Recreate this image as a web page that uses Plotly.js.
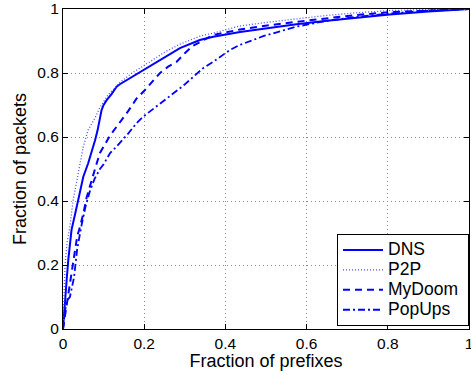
<!DOCTYPE html>
<html>
<head>
<meta charset="utf-8">
<script src="https://cdn.plot.ly/plotly-3.0.1.min.js"></script>
<style>
html,body{margin:0;padding:0;background:#fff;}
#chart{width:471px;height:371px;}
</style>
</head>
<body>
<div id="chart"></div>
<script>
const seriesNames = ["DNS", "P2P", "MyDoom", "PopUps"];

const dnsX = [0, 0.002, 0.005, 0.009, 0.013, 0.017, 0.021, 0.03, 0.038, 0.05, 0.062, 0.07, 0.079, 0.085, 0.091, 0.095, 0.1, 0.108, 0.12, 0.132, 0.14, 0.165, 0.19, 0.21, 0.239, 0.256, 0.288, 0.337, 0.37, 0.436, 0.5, 0.575, 0.65, 0.72, 0.805, 0.9, 1.0];
const dnsY = [0, 0.04, 0.08, 0.153, 0.216, 0.268, 0.31, 0.36, 0.403, 0.476, 0.518, 0.55, 0.59, 0.62, 0.663, 0.684, 0.7, 0.716, 0.735, 0.757, 0.765, 0.784, 0.804, 0.82, 0.84, 0.853, 0.878, 0.903, 0.913, 0.928, 0.94, 0.952, 0.963, 0.972, 0.983, 0.992, 1.0];

const p2pX = [0, 0.002, 0.005, 0.01, 0.017, 0.025, 0.038, 0.05, 0.062, 0.079, 0.09, 0.11, 0.14, 0.17, 0.214, 0.25, 0.288, 0.337, 0.37, 0.436, 0.5, 0.575, 0.65, 0.72, 0.805, 0.9, 1.0];
const p2pY = [0, 0.12, 0.2, 0.27, 0.32, 0.403, 0.487, 0.57, 0.622, 0.66, 0.69, 0.73, 0.77, 0.8, 0.835, 0.865, 0.89, 0.915, 0.925, 0.947, 0.958, 0.97, 0.98, 0.988, 0.995, 0.999, 1.0];

const mydoomX = [0, 0.005, 0.013, 0.02, 0.028, 0.035, 0.042, 0.05, 0.058, 0.066, 0.075, 0.083, 0.091, 0.103, 0.116, 0.132, 0.16, 0.181, 0.202, 0.239, 0.259, 0.28, 0.3, 0.32, 0.337, 0.37, 0.436, 0.477, 0.575, 0.65, 0.72, 0.805, 0.9, 1.0];
const mydoomY = [0, 0.04, 0.1, 0.16, 0.23, 0.29, 0.32, 0.36, 0.41, 0.445, 0.49, 0.518, 0.55, 0.575, 0.605, 0.632, 0.68, 0.72, 0.747, 0.8, 0.82, 0.835, 0.862, 0.885, 0.897, 0.919, 0.936, 0.944, 0.96, 0.972, 0.981, 0.99, 0.996, 1.0];

const popupsX = [0, 0.004, 0.01, 0.017, 0.027, 0.035, 0.045, 0.055, 0.066, 0.078, 0.091, 0.1, 0.116, 0.132, 0.16, 0.181, 0.197, 0.23, 0.259, 0.28, 0.296, 0.345, 0.37, 0.411, 0.436, 0.493, 0.575, 0.65, 0.72, 0.805, 0.9, 1.0];
const popupsY = [0, 0.05, 0.09, 0.1, 0.16, 0.25, 0.32, 0.38, 0.43, 0.47, 0.5, 0.515, 0.55, 0.57, 0.61, 0.643, 0.663, 0.695, 0.722, 0.744, 0.76, 0.815, 0.835, 0.872, 0.888, 0.915, 0.945, 0.963, 0.975, 0.986, 0.995, 1.0];

const tickVals = [0, 0.2, 0.4, 0.6, 0.8, 1];
const tickText = ["0", "0.2", "0.4", "0.6", "0.8", "1"];

const FONT = "Liberation Sans, Arial, Helvetica, sans-serif";
const legendLabel = (s) => '<span style="font-size:17.5px">' + s + '&nbsp;</span>';

const traces = [
  {x: dnsX, y: dnsY, name: legendLabel(seriesNames[0]), mode: "lines",
   line: {color: "#0000ff", width: 2, dash: "solid"}},
  {x: p2pX, y: p2pY, name: legendLabel(seriesNames[1]), mode: "lines",
   line: {color: "#4d4dff", width: 1.3, dash: "1px,2px"}},
  {x: mydoomX, y: mydoomY, name: legendLabel(seriesNames[2]), mode: "lines",
   line: {color: "#0000ff", width: 2, dash: "7px,5px"}},
  {x: popupsX, y: popupsY, name: legendLabel(seriesNames[3]), mode: "lines",
   line: {color: "#0000ff", width: 1.8, dash: "7px,3px,2px,3px"}}
];

const axisCommon = {
  range: [0, 1],
  tickvals: tickVals,
  ticktext: tickText,
  showline: true,
  linecolor: "#000",
  linewidth: 1,
  mirror: "ticks",
  ticks: "inside",
  ticklen: 5,
  tickcolor: "#000",
  showgrid: true,
  gridcolor: "#8c8c8c",
  griddash: "1px,3px",
  gridwidth: 1,
  zeroline: false,
  ticklabeloverflow: "allow",
  tickfont: {family: FONT, size: 15.5, color: "#000"}
};

const layout = {
  width: 471,
  height: 371,
  margin: {l: 63, r: 2, t: 9, b: 42},
  paper_bgcolor: "#fff",
  plot_bgcolor: "#fff",
  font: {family: FONT, color: "#000"},
  xaxis: Object.assign({}, axisCommon, {
    title: {text: "Fraction of prefixes", font: {family: FONT, size: 18, color: "#000"}, standoff: 1}
  }),
  yaxis: Object.assign({}, axisCommon, {
    title: {text: "Fraction of packets", font: {family: FONT, size: 18, color: "#000"}, standoff: 6}
  }),
  showlegend: true,
  legend: {
    x: 1, y: 0.009, xanchor: "right", yanchor: "bottom",
    bgcolor: "#fff", bordercolor: "#000", borderwidth: 1,
    font: {family: FONT, size: 13, color: "#000"},
    itemwidth: 40,
    tracegroupgap: 0
  }
};

Plotly.newPlot("chart", traces, layout, {staticPlot: true, displayModeBar: false});
</script>
</body>
</html>
